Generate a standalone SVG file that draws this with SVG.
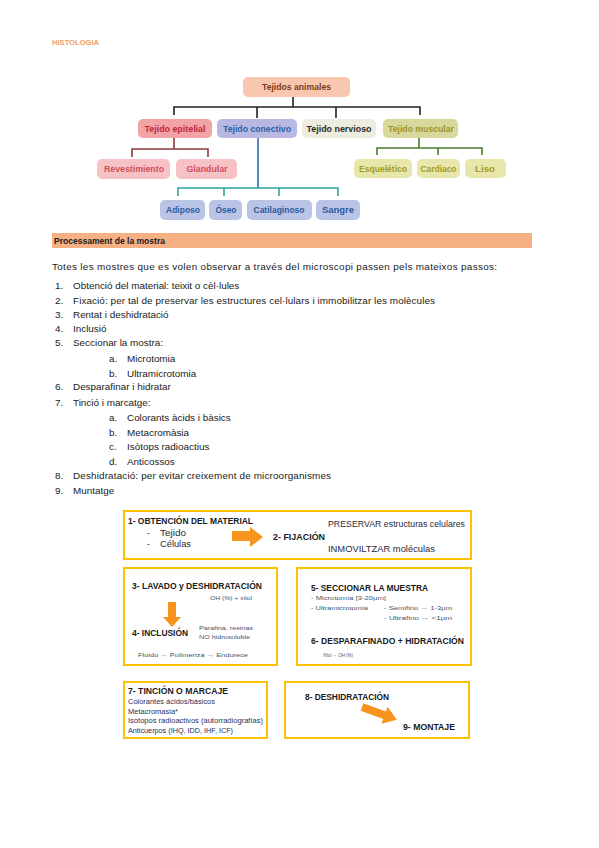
<svg xmlns="http://www.w3.org/2000/svg" width="599" height="848" viewBox="0 0 599 848">
<style>
text{font-family:"Liberation Sans",Arial,sans-serif;}
.tn{font-size:8.5px;font-weight:bold;text-anchor:middle;}
.body{font-size:9.9px;fill:#1a1a1a;}
.hd{font-size:8.5px;font-weight:bold;fill:#1a1a1a;}
.sm{font-size:7px;fill:#1f2f5a;}
.dk{font-size:8.5px;fill:#2a2a3a;}
.xs{font-size:6px;fill:#44546a;}
.box{fill:none;stroke:#ffc000;stroke-width:2;}
.arr{fill:#f7941d;}
.ln{fill:none;stroke-width:1.6;}
</style>
<rect width="599" height="848" fill="#fff"/>
<text x="52" y="45" style="font-size:7px;font-weight:bold;fill:#f0a060" textLength="47" lengthAdjust="spacingAndGlyphs">HISTOLOGIA</text>

<g id="connectors">
<path class="ln" stroke="#222" d="M293 96V107M174 115V107H420V115M257 107V118M336 107V118"/>
<path class="ln" stroke="#8b3a3a" d="M174 138V149M132 157V149H208V157"/>
<path class="ln" stroke="#2f6fb5" d="M258 138V188"/>
<path class="ln" stroke="#27a7a0" d="M178 196V188H338V196M224 188V196M279 188V196"/>
<path class="ln" stroke="#4a7a2a" d="M419 138V148M377 155V148H482V155M438 148V155"/>
</g>

<g id="n-animales"><rect x="243" y="77" width="107" height="20" rx="5" fill="#f9c7ae"/><text class="tn" x="296.5" y="90" fill="#7a3a1e" textLength="69" lengthAdjust="spacingAndGlyphs">Tejidos animales</text></g>
<g id="n-epitelial"><rect x="138" y="119" width="74" height="19" rx="5" fill="#f1a3a6"/><text class="tn" x="175" y="131.5" fill="#c0283a" textLength="61" lengthAdjust="spacingAndGlyphs">Tejido epitelial</text></g>
<g id="n-conectivo"><rect x="217" y="119" width="80" height="19" rx="5" fill="#b8b8e2"/><text class="tn" x="257" y="131.5" fill="#2e5fa6" textLength="68" lengthAdjust="spacingAndGlyphs">Tejido conectivo</text></g>
<g id="n-nervioso"><rect x="302" y="119" width="74" height="19" rx="5" fill="#ededdf"/><text class="tn" x="339" y="131.5" fill="#2a2a2a" textLength="65" lengthAdjust="spacingAndGlyphs">Tejido nervioso</text></g>
<g id="n-muscular"><rect x="383" y="119" width="75" height="19" rx="5" fill="#d9d89c"/><text class="tn" x="421" y="131.5" fill="#9a962a" textLength="66" lengthAdjust="spacingAndGlyphs">Tejido muscular</text></g>
<g id="n-revest"><rect x="97" y="159" width="73" height="20" rx="5" fill="#f7c2c5"/><text class="tn" x="134" y="172" fill="#d0505a" textLength="60" lengthAdjust="spacingAndGlyphs">Revestimiento</text></g>
<g id="n-glandular"><rect x="176" y="159" width="61" height="20" rx="5" fill="#f7c2c5"/><text class="tn" x="207" y="172" fill="#d0505a" textLength="41" lengthAdjust="spacingAndGlyphs">Glandular</text></g>
<g id="n-adiposo"><rect x="160" y="200" width="45" height="20" rx="5" fill="#bac4e7"/><text class="tn" x="183" y="213" fill="#2a5a9e" textLength="34" lengthAdjust="spacingAndGlyphs">Adiposo</text></g>
<g id="n-oseo"><rect x="209" y="200" width="33" height="20" rx="5" fill="#bac4e7"/><text class="tn" x="226" y="213" fill="#2a5a9e" textLength="21" lengthAdjust="spacingAndGlyphs">Óseo</text></g>
<g id="n-cartil"><rect x="247" y="200" width="65" height="20" rx="5" fill="#bac4e7"/><text class="tn" x="279" y="213" fill="#2a5a9e" textLength="51" lengthAdjust="spacingAndGlyphs">Catilaginoso</text></g>
<g id="n-sangre"><rect x="316" y="200" width="44" height="20" rx="5" fill="#bac4e7"/><text class="tn" x="338" y="213" fill="#2a5a9e" textLength="32" lengthAdjust="spacingAndGlyphs">Sangre</text></g>
<g id="n-esquel"><rect x="354" y="159" width="58" height="19" rx="5" fill="#e7e7ac"/><text class="tn" x="383" y="171.5" fill="#a39a1e" textLength="48" lengthAdjust="spacingAndGlyphs">Esquelético</text></g>
<g id="n-cardiaco"><rect x="417" y="159" width="43" height="19" rx="5" fill="#e7e7ac"/><text class="tn" x="438.5" y="171.5" fill="#a39a1e" textLength="36" lengthAdjust="spacingAndGlyphs">Cardiaco</text></g>
<g id="n-liso"><rect x="465" y="159" width="41" height="19" rx="5" fill="#e7e7ac"/><text class="tn" x="485" y="171.5" fill="#a39a1e" textLength="20" lengthAdjust="spacingAndGlyphs">Liso</text></g>

<rect x="52" y="233" width="480" height="15" fill="#f5b183"/>
<text x="54" y="244" style="font-size:8.5px;font-weight:bold;fill:#1a1a1a" textLength="111" lengthAdjust="spacingAndGlyphs">Processament de la mostra</text>

<g class="body">
<text x="52" y="270" textLength="445">Totes les mostres que es volen observar a través del microscopi passen pels mateixos passos:</text>
<text x="55" y="289">1.</text><text x="73" y="289">Obtenció del material: teixit o cèl·lules</text>
<text x="55" y="304">2.</text><text x="73" y="304" textLength="362">Fixació: per tal de preservar les estructures cel·lulars i immobilitzar les molècules</text>
<text x="55" y="318">3.</text><text x="73" y="318">Rentat i deshidratació</text>
<text x="55" y="332">4.</text><text x="73" y="332">Inclusió</text>
<text x="55" y="346">5.</text><text x="73" y="346">Seccionar la mostra:</text>
<text x="109" y="362">a.</text><text x="127" y="362">Microtomia</text>
<text x="109" y="377">b.</text><text x="127" y="377">Ultramicrotomia</text>
<text x="55" y="390">6.</text><text x="73" y="390">Desparafinar i hidratar</text>
<text x="55" y="406">7.</text><text x="73" y="406">Tinció i marcatge:</text>
<text x="109" y="421">a.</text><text x="127" y="421">Colorants àcids i bàsics</text>
<text x="109" y="436">b.</text><text x="127" y="436">Metacromàsia</text>
<text x="109" y="450">c.</text><text x="127" y="450">Isòtops radioactius</text>
<text x="109" y="465">d.</text><text x="127" y="465">Anticossos</text>
<text x="55" y="479">8.</text><text x="73" y="479" textLength="258">Deshidratació: per evitar creixement de microorganismes</text>
<text x="55" y="494">9.</text><text x="73" y="494">Muntatge</text>
</g>

<g id="box1">
<rect class="box" x="124" y="511" width="347" height="48"/>
<text class="hd" x="128" y="524" textLength="125" lengthAdjust="spacingAndGlyphs">1- OBTENCIÓN DEL MATERIAL</text>
<text class="dk" x="147" y="536">-</text><text class="dk" x="160" y="536" textLength="26" lengthAdjust="spacingAndGlyphs">Tejido</text>
<text class="dk" x="147" y="547">-</text><text class="dk" x="160" y="547" textLength="31" lengthAdjust="spacingAndGlyphs">Células</text>
<polygon class="arr" points="232,531 250,531 250,527 263,537 250,547 250,541 232,541"/>
<text class="hd" x="273" y="540" textLength="52" lengthAdjust="spacingAndGlyphs">2- FIJACIÓN</text>
<text class="dk" x="328" y="527" textLength="137" lengthAdjust="spacingAndGlyphs">PRESERVAR estructuras celulares</text>
<text class="dk" x="328" y="552" textLength="107" lengthAdjust="spacingAndGlyphs">INMOVILTZAR moléculas</text>
</g>

<g id="box2">
<rect class="box" x="124" y="568" width="153" height="97"/>
<text class="hd" x="132" y="589" textLength="130" lengthAdjust="spacingAndGlyphs">3- LAVADO y DESHIDRATACIÓN</text>
<text class="xs" x="210" y="600" textLength="42" lengthAdjust="spacingAndGlyphs" fill="#333">OH (%) + xilol</text>
<polygon class="arr" points="168,602 176,602 176,617 181,617 172,627 163,617 168,617"/>
<text class="hd" x="132" y="636" textLength="56" lengthAdjust="spacingAndGlyphs">4- INCLUSIÓN</text>
<text class="xs" x="199" y="630" textLength="54" lengthAdjust="spacingAndGlyphs">Parafina, resinas</text>
<text class="xs" x="199" y="639" textLength="51" lengthAdjust="spacingAndGlyphs">NO hidrosoluble</text>
<text class="xs" x="138" y="657" textLength="110" lengthAdjust="spacingAndGlyphs">Fluido → Polimeriza → Endurece</text>
</g>

<g id="box3">
<rect class="box" x="297" y="568" width="174" height="97"/>
<text class="hd" x="311" y="591" textLength="117" lengthAdjust="spacingAndGlyphs">5- SECCIONAR LA MUESTRA</text>
<text class="xs" x="311" y="600" textLength="75" lengthAdjust="spacingAndGlyphs">- Microtomía [3-20µm]</text>
<text class="xs" x="311" y="610" textLength="57" lengthAdjust="spacingAndGlyphs">- Ultramicrotomía</text>
<text class="xs" x="384" y="610" textLength="68" lengthAdjust="spacingAndGlyphs">- Semifino → 1-3µm</text>
<text class="xs" x="384" y="620" textLength="68" lengthAdjust="spacingAndGlyphs">- Ultrafino → &lt;1µm</text>
<text class="hd" x="311" y="644" textLength="153" lengthAdjust="spacingAndGlyphs">6- DESPARAFINADO + HIDRATACIÓN</text>
<text class="xs" x="323" y="657" textLength="30" lengthAdjust="spacingAndGlyphs">Xilol → OH (%)</text>
</g>

<g id="box4">
<rect class="box" x="124" y="682" width="143" height="56"/>
<text class="hd" x="128" y="694" textLength="100" lengthAdjust="spacingAndGlyphs">7- TINCIÓN O MARCAJE</text>
<text class="sm" x="128" y="704" textLength="87" lengthAdjust="spacingAndGlyphs">Colorantes ácidos/básicos</text>
<text class="sm" x="128" y="714" textLength="50" lengthAdjust="spacingAndGlyphs">Metacromasia*</text>
<text class="sm" x="128" y="723" textLength="135" lengthAdjust="spacingAndGlyphs">Isótopos radioactivos (autorradiografías)</text>
<text class="sm" x="128" y="733" textLength="105" lengthAdjust="spacingAndGlyphs">Anticuerpos (IHQ, IDD, IHF, ICF)</text>
</g>

<g id="box5">
<rect class="box" x="285" y="682" width="184" height="56"/>
<text class="hd" x="305" y="700" textLength="84" lengthAdjust="spacingAndGlyphs">8- DESHIDRATACIÓN</text>
<polygon class="arr" transform="translate(362,707) rotate(20)" points="0,-4 24,-4 24,-9 37,0 24,9 24,4 0,4"/>
<text class="hd" x="403" y="730" textLength="52" lengthAdjust="spacingAndGlyphs">9- MONTAJE</text>
</g>
</svg>
